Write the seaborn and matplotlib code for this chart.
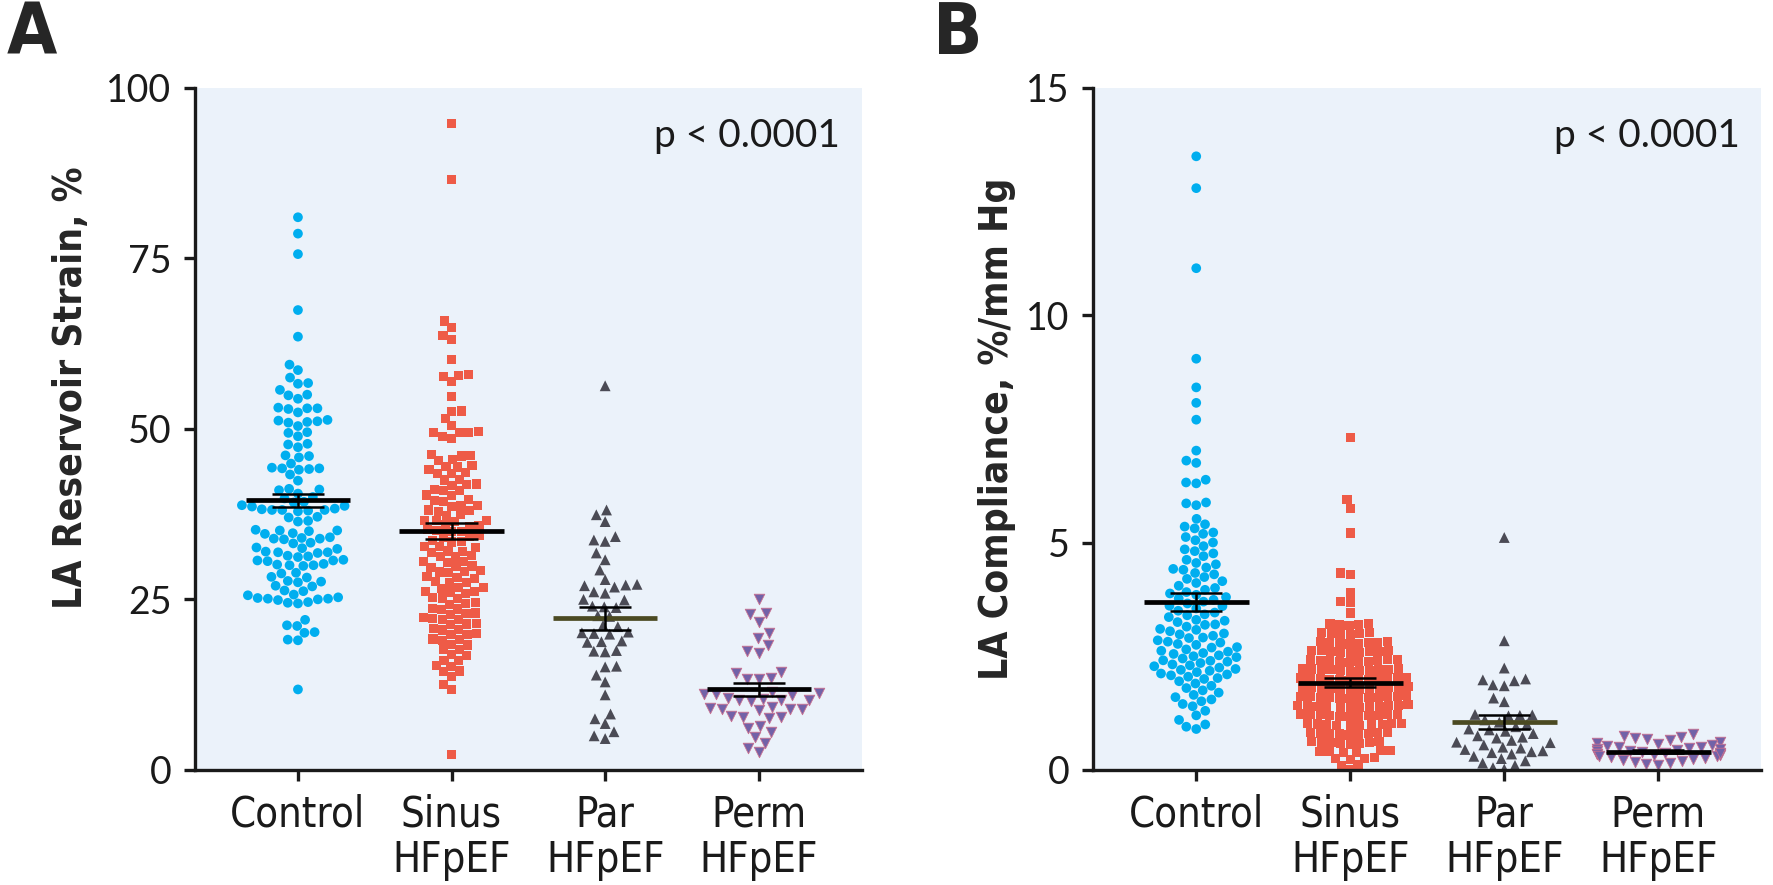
import os
import numpy as np
import pandas as pd
import matplotlib
matplotlib.use("Agg")
import matplotlib.pyplot as plt
from matplotlib import font_manager as fm
import seaborn as sns

groups = ["Control", "Sinus\nHFpEF", "Par\nHFpEF", "Perm\nHFpEF"]

# Panel A: LA reservoir strain, %
strain_control = [81.0, 78.6, 75.6, 67.4, 63.5, 59.4, 58.6, 57.5, 56.7, 56.6, 55.7, 55.0, 54.9, 54.4,
                  53.0, 53.1, 52.9, 53.0, 52.4, 51.3, 51.2, 51.0, 50.9, 51.1, 50.4, 49.5, 49.4, 48.9,
                  47.8, 47.7, 47.3, 46.1, 46.0, 45.8, 44.9, 44.2, 44.3, 44.1, 44.2, 44.0, 43.3, 42.4,
                  41.1, 41.2, 41.0, 40.5, 40.0, 39.8, 39.3, 39.2, 38.7, 38.8, 38.6, 38.1, 38.2, 38.0,
                  38.1, 38.3, 37.9, 38.1, 37.1, 37.0, 36.5, 36.4, 35.1, 35.2, 35.0, 35.1, 34.7, 34.6,
                  33.9, 34.0, 33.8, 33.9, 34.1, 33.3, 33.2, 32.5, 32.6, 32.4, 31.9, 32.0, 31.8, 31.9,
                  31.3, 31.4, 31.2, 30.7, 30.6, 30.8, 30.7, 30.0, 30.1, 29.9, 30.0, 30.2, 28.8, 28.9,
                  28.3, 28.2, 27.6, 27.7, 27.5, 27.0, 26.9, 26.2, 26.3, 25.7, 25.6, 25.1, 25.2, 25.0,
                  25.1, 24.9, 25.3, 24.5, 24.4, 24.6, 22.0, 21.1, 21.2, 20.2, 20.1, 19.1, 19.0, 11.8]
strain_sinus = [94.7, 86.5, 65.8, 64.9, 63.7, 63.1, 60.2, 57.8, 57.7, 57.9, 56.9, 54.7, 52.6, 52.5,
                51.5, 50.5, 49.5, 49.4, 49.6, 49.5, 48.9, 48.6, 46.1, 46.2, 46.0, 45.5, 45.4, 44.5,
                44.6, 44.4, 44.0, 43.5, 43.4, 43.6, 42.5, 42.6, 41.8, 41.9, 41.7, 41.0, 41.1, 40.9,
                40.2, 40.3, 39.5, 39.6, 39.4, 38.7, 38.8, 38.6, 38.0, 38.1, 37.9, 37.3, 37.4, 36.5,
                36.6, 36.4, 36.5, 35.8, 35.9, 35.7, 35.0, 35.1, 34.9, 35.2, 34.2, 34.3, 34.1, 33.5,
                33.6, 33.4, 32.7, 32.8, 32.6, 32.0, 32.1, 31.9, 31.3, 31.4, 31.2, 30.5, 30.6, 30.4,
                29.8, 29.9, 29.7, 29.0, 29.1, 28.9, 29.2, 28.2, 28.3, 28.1, 27.5, 27.6, 27.4, 26.7,
                26.8, 26.6, 26.0, 26.1, 25.9, 26.2, 25.2, 25.3, 25.1, 24.4, 24.5, 24.3, 23.6, 23.7,
                23.5, 22.9, 23.0, 22.8, 22.2, 22.3, 22.1, 22.0, 21.4, 21.5, 21.3, 20.6, 20.7, 20.5,
                19.9, 20.0, 19.8, 19.1, 19.2, 19.0, 18.3, 18.4, 17.6, 17.7, 16.8, 16.9, 16.0, 16.1,
                15.3, 15.2, 14.5, 14.4, 13.7, 12.5, 11.8, 2.3]
strain_par = [56.3, 38.1, 37.4, 36.4, 34.2, 33.7, 33.5, 31.8, 30.8, 29.3, 27.9, 27.0, 27.2, 26.8,
              27.1, 25.9, 26.1, 24.9, 25.0, 23.9, 24.0, 23.8, 22.5, 22.6, 21.0, 21.2, 20.0, 20.1,
              19.9, 20.2, 18.8, 18.9, 18.7, 17.4, 17.5, 17.3, 15.1, 15.2, 13.9, 12.9, 11.0, 8.2,
              7.5, 6.8, 5.6, 5.0, 4.6]
strain_perm = [25.1, 23.0, 22.8, 21.7, 20.0, 19.3, 18.3, 17.4, 17.2, 14.4, 14.2, 13.4, 13.3, 13.5,
               11.2, 11.3, 11.1, 11.0, 11.4, 10.3, 10.2, 10.4, 10.1, 10.5, 10.3, 9.0, 9.1, 8.9,
               9.2, 8.8, 9.0, 7.8, 7.7, 7.9, 7.6, 6.5, 6.2, 5.5, 4.8, 4.0, 3.2, 2.6]
strain_mean = [39.5, 35.0, 22.2, 11.8]
strain_se = [1.0, 1.2, 1.7, 0.9]

# Panel B: LA compliance, %/mm Hg
comp_control = [13.49, 12.79, 11.03, 9.04, 8.41, 8.07, 7.70, 7.02, 6.80, 6.75, 6.38, 6.32, 6.30,
                5.88, 5.86, 5.82, 5.52, 5.40, 5.35, 5.31, 5.22, 5.19, 5.12, 5.05, 5.00, 4.92, 4.85,
                4.81, 4.76, 4.70, 4.62, 4.55, 4.52, 4.45, 4.42, 4.40, 4.33, 4.30, 4.24, 4.20, 4.15,
                4.11, 4.05, 4.00, 3.96, 3.91, 3.88, 3.85, 3.80, 3.77, 3.74, 3.70, 3.66, 3.61, 3.60,
                3.55, 3.50, 3.46, 3.42, 3.40, 3.36, 3.30, 3.28, 3.25, 3.20, 3.19, 3.15, 3.10, 3.08,
                3.05, 3.00, 2.98, 2.95, 2.91, 2.90, 2.85, 2.82, 2.80, 2.77, 2.75, 2.70, 2.69, 2.65,
                2.62, 2.60, 2.57, 2.55, 2.52, 2.50, 2.48, 2.45, 2.41, 2.40, 2.38, 2.35, 2.32, 2.30,
                2.28, 2.25, 2.22, 2.20, 2.18, 2.15, 2.12, 2.10, 2.08, 2.05, 2.02, 2.00, 1.95, 1.90,
                1.85, 1.80, 1.75, 1.70, 1.65, 1.60, 1.55, 1.51, 1.45, 1.40, 1.30, 1.20, 1.10, 1.00,
                0.95, 0.90]
comp_sinus = [7.31, 5.94, 5.75, 5.21, 4.33, 4.30, 3.89, 3.70, 3.68, 3.45, 3.22, 3.20, 3.18, 3.21,
              3.19, 3.02, 3.00, 2.98, 3.01, 2.99, 3.03, 2.82, 2.80, 2.78, 2.81, 2.79, 2.83, 2.77,
              2.80, 2.62, 2.60, 2.58, 2.61, 2.59, 2.63, 2.57, 2.60, 2.62, 2.42, 2.40, 2.38, 2.41,
              2.39, 2.43, 2.37, 2.40, 2.42, 2.38, 2.22, 2.20, 2.18, 2.21, 2.19, 2.23, 2.17, 2.20,
              2.22, 2.18, 2.21, 2.02, 2.00, 1.98, 2.01, 1.99, 2.03, 1.97, 2.00, 2.02, 1.98, 2.01,
              1.99, 1.82, 1.80, 1.78, 1.81, 1.79, 1.83, 1.77, 1.80, 1.82, 1.78, 1.81, 1.79, 1.62,
              1.60, 1.58, 1.61, 1.59, 1.63, 1.57, 1.60, 1.62, 1.58, 1.61, 1.59, 1.42, 1.40, 1.38,
              1.41, 1.39, 1.43, 1.37, 1.40, 1.42, 1.38, 1.41, 1.39, 1.22, 1.20, 1.18, 1.21, 1.19,
              1.23, 1.17, 1.20, 1.22, 1.18, 1.21, 1.02, 1.00, 0.98, 1.01, 0.99, 1.03, 0.97, 1.00,
              1.02, 0.98, 0.82, 0.80, 0.78, 0.81, 0.79, 0.83, 0.77, 0.80, 0.82, 0.62, 0.60, 0.58,
              0.61, 0.59, 0.63, 0.57, 0.60, 0.42, 0.40, 0.38, 0.41, 0.39, 0.43, 0.25, 0.27, 0.23,
              0.26, 0.10, 0.12, 0.00]
comp_par = [5.11, 2.84, 2.24, 1.98, 1.96, 2.00, 1.87, 1.85, 1.58, 1.50, 1.21, 1.20, 1.22, 1.19,
            1.10, 1.05, 1.00, 0.95, 0.90, 0.88, 0.85, 0.80, 0.75, 0.72, 0.70, 0.65, 0.60, 0.61,
            0.55, 0.50, 0.48, 0.45, 0.42, 0.40, 0.38, 0.35, 0.30, 0.25, 0.20, 0.15, 0.10, 0.05,
            0.02]
comp_perm = [0.80, 0.75, 0.72, 0.70, 0.68, 0.65, 0.62, 0.60, 0.58, 0.55, 0.52, 0.50, 0.51, 0.48,
             0.45, 0.46, 0.42, 0.40, 0.41, 0.38, 0.36, 0.35, 0.34, 0.32, 0.30, 0.31, 0.28, 0.26,
             0.25, 0.22, 0.20, 0.18, 0.15, 0.12, 0.10, 0.44, 0.37, 0.33]
comp_mean = [3.70, 1.92, 1.05, 0.40]
comp_se = [0.20, 0.10, 0.15, 0.03]

colors = ["#00AEEF", "#EE5B47", "#4B4B55", "#7262A8"]
edges = ["none", "none", "none", "#C9708F"]
markers = ["o", "s", "^", "v"]
sizes = [7, 6.6, 7.8, 7.6]
mean_colors = ["black", "black", "#4B4A22", "black"]

sns.set_style("ticks")
names = {f.name for f in fm.fontManager.ttflist}
num_font = "Lato" if "Lato" in names else "DejaVu Sans"
plt.rcParams["font.family"] = [num_font, "DejaVu Sans"]

# condensed face for labels, if one is installed
files = {os.path.basename(f.fname): f.fname for f in fm.fontManager.ttflist}


def cond_font(size, bold=False):
    cands = (["LiberationSansNarrow-Bold.ttf", "DejaVuSansCondensed-Bold.ttf"] if bold
             else ["LiberationSansNarrow-Regular.ttf", "DejaVuSansCondensed.ttf"])
    for c in cands:
        if c in files:
            return fm.FontProperties(fname=files[c], size=size)
    return fm.FontProperties(family="DejaVu Sans", weight="bold" if bold else "normal",
                             stretch="condensed", size=size)


def panel(ax, series, means, ses, ymax, yticks, ylabel, ylab_pos):
    df = pd.concat([pd.DataFrame({"group": g, "value": v}) for g, v in zip(groups, series)])
    for i, g in enumerate(groups):
        sub = df[df["group"] == g]
        sns.swarmplot(data=sub, x="group", y="value", order=groups, color=colors[i],
                      marker=markers[i], size=sizes[i], edgecolor=edges[i],
                      linewidth=0.6 if edges[i] != "none" else 0, ax=ax, zorder=2)
    for i in range(len(groups)):
        m, s = means[i], ses[i]
        ax.hlines(m, i - 0.34, i + 0.34, color=mean_colors[i], lw=3.4, zorder=4)
        ax.hlines([m - s, m + s], i - 0.17, i + 0.17, color="black", lw=1.8, zorder=4)
        ax.vlines(i, m - s, m + s, color="black", lw=1.8, zorder=4)
    ax.set_facecolor("#EBF2FA")
    ax.set_xlim(-0.67, 3.67)
    ax.set_ylim(0, ymax)
    ax.set_yticks(yticks)
    ax.set_xticks(range(len(groups)))
    ax.set_xticklabels(groups, fontproperties=cond_font(30), linespacing=1.1)
    for lab in ax.get_yticklabels():
        lab.set_fontsize(27)
    ax.set_xlabel("")
    ax.set_ylabel(ylabel, fontproperties=cond_font(28, bold=True))
    ax.yaxis.set_label_coords(ylab_pos[0], ylab_pos[1])
    sns.despine(ax=ax)
    for sp in ["left", "bottom"]:
        ax.spines[sp].set_linewidth(2.4)
        ax.spines[sp].set_color("#1a1a1a")
    ax.tick_params(axis="both", width=2.4, length=8, color="#1a1a1a", labelcolor="#1a1a1a")
    ax.tick_params(axis="y", pad=9)
    ax.tick_params(axis="x", pad=9)
    ax.text(0.967, 0.955, "p < 0.0001", transform=ax.transAxes, ha="right", va="top",
            fontsize=28, color="#1a1a1a")


fig = plt.figure(figsize=(17.73, 8.85), dpi=100)
axA = fig.add_axes([0.110, 0.130, 0.376, 0.771])
axB = fig.add_axes([0.6165, 0.130, 0.377, 0.771])

panel(axA, [strain_control, strain_sinus, strain_par, strain_perm], strain_mean, strain_se,
      100, [0, 25, 50, 75, 100], "LA Reservoir Strain, %", (-0.157, 0.56))
panel(axB, [comp_control, comp_sinus, comp_par, comp_perm], comp_mean, comp_se,
      15, [0, 5, 10, 15], "LA Compliance, %/mm Hg", (-0.116, 0.50))

fig.text(0.004, 1.0, "A", fontproperties=cond_font(52, bold=True), ha="left", va="top")
fig.text(0.526, 1.0, "B", fontproperties=cond_font(52, bold=True), ha="left", va="top")

fig.savefig("out.png", dpi=100)
